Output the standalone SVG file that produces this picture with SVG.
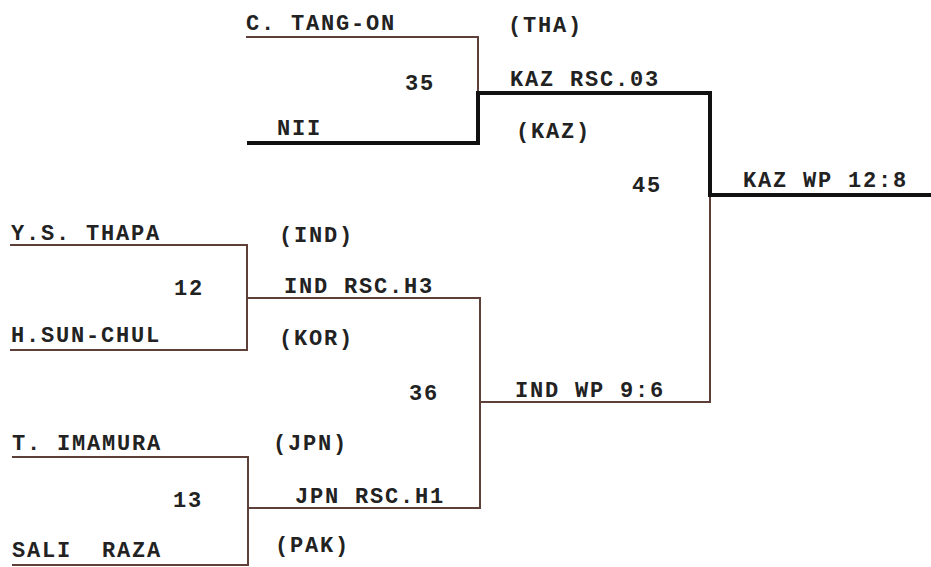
<svg xmlns="http://www.w3.org/2000/svg" width="931" height="567" viewBox="0 0 931 567">
<style>
text{font-family:"Liberation Mono","DejaVu Sans Mono",monospace;font-weight:bold;font-size:22px;fill:#222;letter-spacing:1.8px;white-space:pre}
.thin{fill:none;stroke:#5e4038;stroke-width:2}
.thick{fill:none;stroke:#111;stroke-width:4}
</style>
<rect width="931" height="567" fill="#fff"/>
<g id="connectors">
<path class="thin" d="M246,37 H478 V93"/>
<path class="thin" d="M10,245 H247 V350 H10"/>
<path class="thin" d="M247,298 H480 V508 H248"/>
<path class="thin" d="M12,457 H248 V565 H12"/>
<path class="thin" d="M480,402 H710 V195"/>
<path class="thick" d="M247,143 H478 V93 H710 V195 H931"/>
</g>
<g id="tang"><text x="246" y="30">C. TANG-ON</text><text x="508" y="32">(THA)</text></g>
<g id="nil"><text x="277" y="135">NII</text></g>
<g id="m35"><text x="405" y="90">35</text><text x="510" y="86">KAZ RSC.03</text><text x="516" y="138">(KAZ)</text></g>
<g id="thapa"><text x="11" y="240">Y.S. THAPA</text><text x="279" y="242">(IND)</text></g>
<g id="sun"><text x="11" y="342">H.SUN-CHUL</text><text x="279" y="345">(KOR)</text></g>
<g id="m12"><text x="174" y="295">12</text><text x="284" y="293">IND RSC.H3</text></g>
<g id="imamura"><text x="12" y="450">T. IMAMURA</text><text x="273" y="450">(JPN)</text></g>
<g id="raza"><text x="12" y="557">SALI  RAZA</text><text x="275" y="552">(PAK)</text></g>
<g id="m13"><text x="173" y="507">13</text><text x="295" y="503">JPN RSC.H1</text></g>
<g id="m36"><text x="409" y="400">36</text><text x="515" y="397">IND WP 9:6</text></g>
<g id="m45"><text x="632" y="192">45</text><text x="743" y="187">KAZ WP 12:8</text></g>
</svg>
